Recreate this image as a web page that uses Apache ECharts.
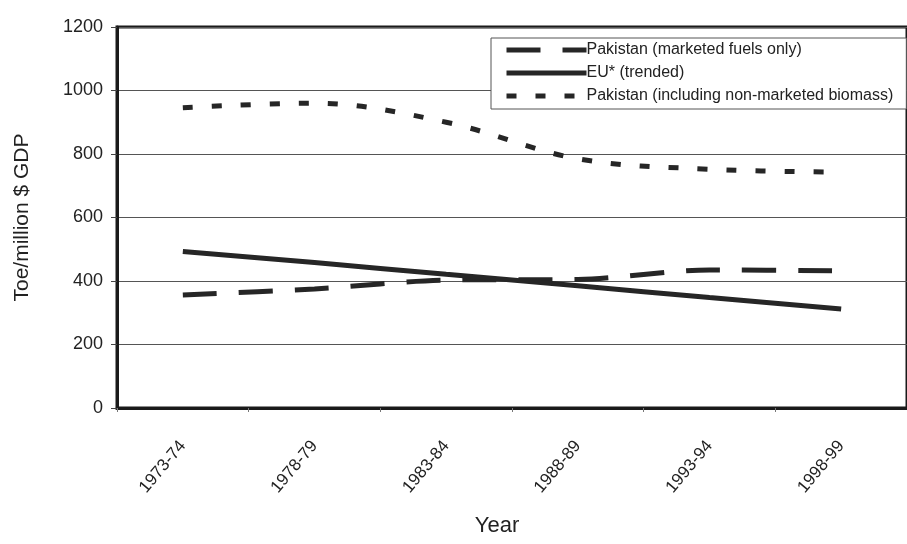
<!DOCTYPE html>
<html>
<head>
<meta charset="utf-8">
<script src="https://cdn.jsdelivr.net/npm/echarts@6/dist/echarts.min.js"></script>
<style>html,body{margin:0;padding:0;background:#fff}#c{width:907px;height:544px}</style>
</head>
<body>
<div id="c"></div>
<script>
var categories = ['1973-74', '1978-79', '1983-84', '1988-89', '1993-94', '1998-99'];
var marketed = [356, 375, 403, 405, 435, 432];
var eu = [493, 458, 421, 385, 348, 312];
var biomass = [946, 960, 900, 785, 752, 743];
var yTicks = {min: 0, max: 1200, interval: 200};

var FONT = '"Liberation Sans", Arial, sans-serif';
var LC = '#262626';
var chart = echarts.init(document.getElementById('c'), null, {renderer: 'canvas'});
chart.setOption({
  animation: false,
  backgroundColor: '#fff',
  textStyle: {fontFamily: FONT},
  grid: {left: 117, top: 27, bottom: 136, right: -10, show: true, borderColor: '#1a1a1a', borderWidth: 3, backgroundColor: 'transparent'},
  legend: {
    orient: 'vertical', left: 491, top: 38,
    itemWidth: 80, itemHeight: 14, itemGap: 3,
    padding: [2, 13, 3, 13],
    borderColor: '#555', borderWidth: 1, backgroundColor: '#fff',
    itemStyle: {opacity: 0},
    lineStyle: {width: 5},
    textStyle: {fontFamily: FONT, fontSize: 16, lineHeight: 20, color: '#222', padding: [0, 0, 0, -5]},
    data: ['Pakistan (marketed fuels only)', 'EU* (trended)', 'Pakistan (including non-marketed biomass)']
  },
  xAxis: {
    type: 'category', data: categories, boundaryGap: true,
    name: 'Year', nameLocation: 'middle', nameGap: 107,
    nameTextStyle: {fontFamily: FONT, fontSize: 22, color: '#222', padding: [0, 30, 0, 0]},
    axisLine: {lineStyle: {color: '#1a1a1a', width: 3}},
    axisTick: {show: true, length: 4, lineStyle: {color: '#777', width: 1}},
    axisLabel: {rotate: 50, margin: 35, fontFamily: FONT, fontSize: 17, color: '#222'},
    splitLine: {show: false}
  },
  yAxis: {
    type: 'value', min: yTicks.min, max: yTicks.max, interval: yTicks.interval,
    name: 'Toe/million $ GDP', nameLocation: 'middle', nameGap: 84,
    nameTextStyle: {fontFamily: FONT, fontSize: 21, color: '#222'},
    axisLine: {show: true, lineStyle: {color: '#1a1a1a', width: 3}},
    axisTick: {show: true, length: 6, lineStyle: {color: '#444', width: 1}},
    axisLabel: {margin: 14, fontFamily: FONT, fontSize: 18, color: '#222', formatter: function (v) { return String(v); }},
    splitLine: {show: true, lineStyle: {color: '#555', width: 1}}
  },
  series: [
    {name: 'Pakistan (marketed fuels only)', type: 'line', data: marketed, symbol: 'none', smooth: 0.3,
     lineStyle: {color: LC, width: 5, type: [34, 22]}, itemStyle: {color: LC}},
    {name: 'EU* (trended)', type: 'line', data: eu, symbol: 'none', smooth: 0.3,
     lineStyle: {color: LC, width: 5}, itemStyle: {color: LC}},
    {name: 'Pakistan (including non-marketed biomass)', type: 'line', data: biomass, symbol: 'none', smooth: 0.35,
     lineStyle: {color: LC, width: 5, type: [10, 19]}, itemStyle: {color: LC}}
  ]
});
</script>
</body>
</html>
